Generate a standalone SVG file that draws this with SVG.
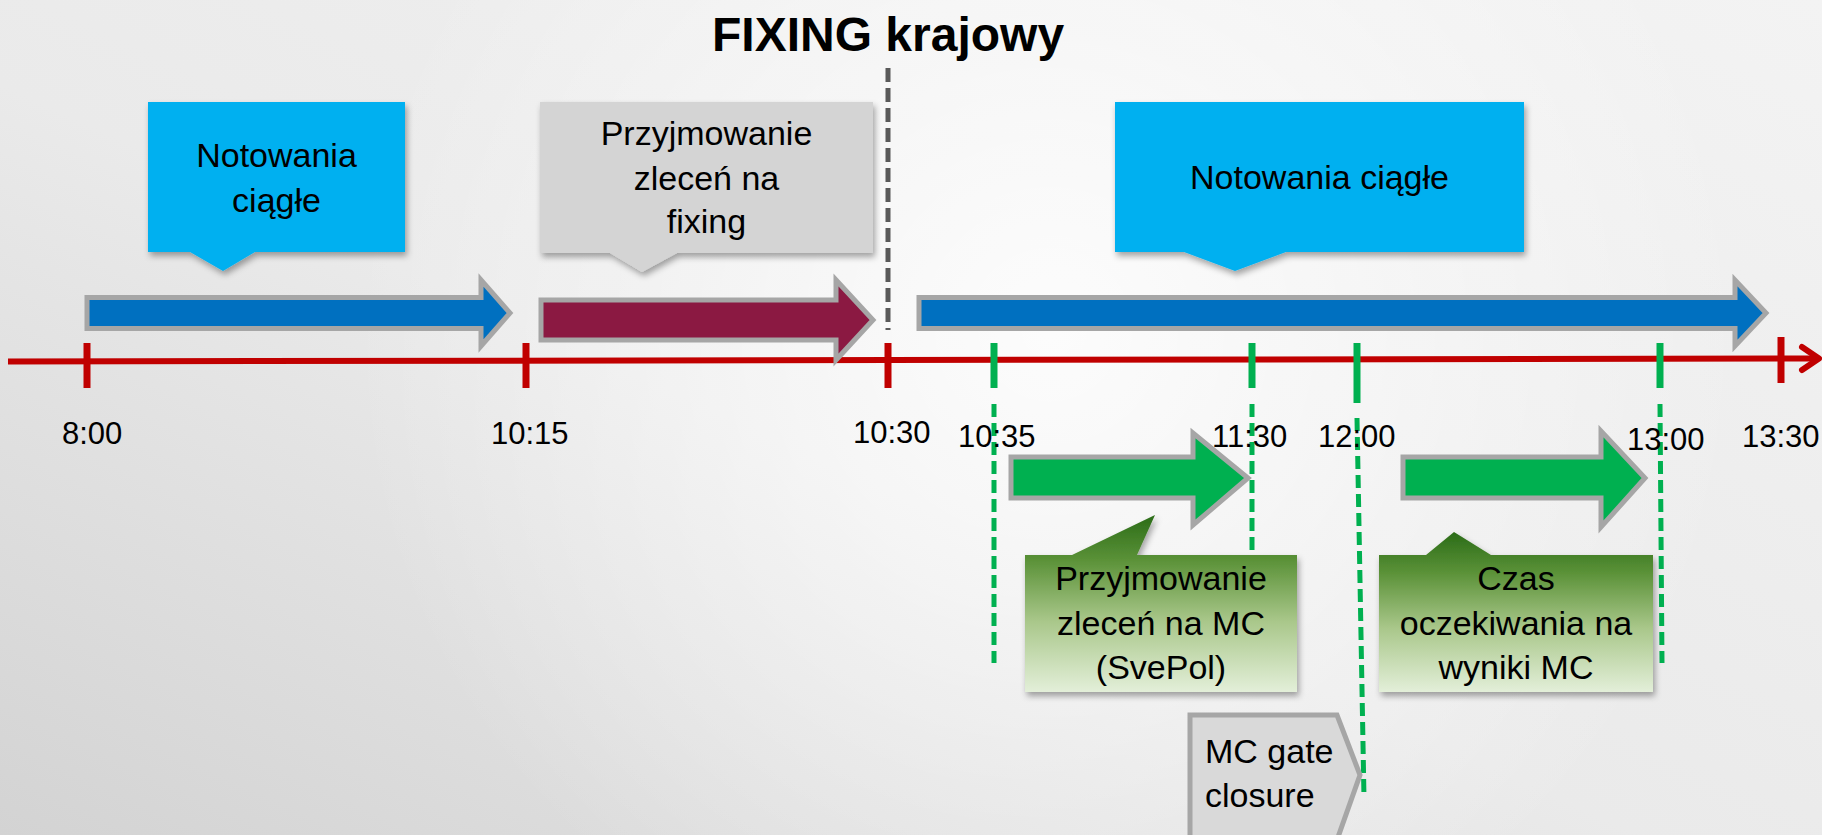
<svg xmlns="http://www.w3.org/2000/svg" width="1822" height="835" viewBox="0 0 1822 835">
  <defs>
    <linearGradient id="bg" x1="0" y1="1" x2="1" y2="0">
      <stop offset="0" stop-color="#d3d3d3"/>
      <stop offset="0.45" stop-color="#eaeaea"/>
      <stop offset="1" stop-color="#f3f3f3"/>
    </linearGradient>
    <radialGradient id="glow" cx="1050" cy="330" r="700" gradientUnits="userSpaceOnUse">
      <stop offset="0" stop-color="#ffffff" stop-opacity="0.85"/>
      <stop offset="1" stop-color="#ffffff" stop-opacity="0"/>
    </radialGradient>
    <linearGradient id="greenGrad" x1="0" y1="0" x2="0" y2="1">
      <stop offset="0" stop-color="#2b6c18"/>
      <stop offset="0.25" stop-color="#5a9137"/>
      <stop offset="0.6" stop-color="#a9c78a"/>
      <stop offset="1" stop-color="#e3efd9"/>
    </linearGradient>
    <filter id="shadow" x="-10%" y="-10%" width="125%" height="130%">
      <feDropShadow dx="2" dy="4" stdDeviation="3" flood-color="#000" flood-opacity="0.35"/>
    </filter>
    <style>
      .box-text { font-family: "Liberation Sans", Arial, sans-serif; font-size: 34px; fill: #000; text-anchor: middle; }
      .time { font-family: "Liberation Sans", Arial, sans-serif; font-size: 31px; fill: #000; }
      .title { font-family: "Liberation Sans", Arial, sans-serif; font-size: 48px; font-weight: bold; fill: #000; }
      .arrow { stroke: #a6a6a6; stroke-width: 5; stroke-linejoin: miter; }
      .red-tick { stroke: #c00000; stroke-width: 7; }
      .green-tick { stroke: #00b050; stroke-width: 7; }
      .green-dash { stroke: #00b050; stroke-width: 5; stroke-dasharray: 13 6; fill: none; }
    </style>
  </defs>

  <g id="background">
    <rect x="0" y="0" width="1822" height="835" fill="url(#bg)"/>
    <rect x="0" y="0" width="1822" height="835" fill="url(#glow)"/>
  </g>

  <g id="title">
    <text class="title" x="712" y="51">FIXING krajowy</text>
  </g>

  <g id="connectors">
    <!-- timeline axis -->
    <line x1="8" y1="361.5" x2="1816" y2="358.5" stroke="#c00000" stroke-width="6"/>
    <polyline points="1802,347 1819,358.5 1802,370" fill="none" stroke="#c00000" stroke-width="6" stroke-linecap="round" stroke-linejoin="round"/>
    <!-- red ticks -->
    <line class="red-tick" x1="87" y1="343" x2="87" y2="388"/>
    <line class="red-tick" x1="526" y1="343" x2="526" y2="388"/>
    <line class="red-tick" x1="888" y1="343" x2="888" y2="388"/>
    <line class="red-tick" x1="1781" y1="337" x2="1781" y2="383"/>
    <!-- green ticks -->
    <line class="green-tick" x1="994" y1="343" x2="994" y2="388"/>
    <line class="green-tick" x1="1252" y1="343" x2="1252" y2="388"/>
    <line class="green-tick" x1="1357" y1="343" x2="1357" y2="403"/>
    <line class="green-tick" x1="1660" y1="343" x2="1660" y2="388"/>
    <!-- fixing dashed line -->
    <line x1="888" y1="68" x2="888" y2="330" stroke="#595959" stroke-width="5" stroke-dasharray="14 6"/>
    <!-- green dashed lines -->
    <line class="green-dash" x1="994" y1="404" x2="994" y2="663"/>
    <line class="green-dash" x1="1252" y1="404" x2="1252" y2="553"/>
    <line class="green-dash" x1="1357" y1="418" x2="1364" y2="798"/>
    <line class="green-dash" x1="1660" y1="404" x2="1662" y2="663"/>
  </g>

  <g id="arrow-notowania-1">
    <path class="arrow" fill="#0070c0" d="M87,297.5 H481 V280 L510,313 L481,346 V328.5 H87 Z"/>
  </g>
  <g id="arrow-fixing">
    <path class="arrow" fill="#8b1942" d="M541,300 H836 V280 L873,320 L836,360 V340 H541 Z"/>
  </g>
  <g id="arrow-notowania-2">
    <path class="arrow" fill="#0070c0" d="M919,297.5 H1735 V280 L1766,313 L1735,346 V328.5 H919 Z"/>
  </g>
  <g id="arrow-mc-1">
    <path class="arrow" fill="#00b050" d="M1011,457 H1193 V433 L1248,478 L1193,525 V498 H1011 Z"/>
  </g>
  <g id="arrow-mc-2">
    <path class="arrow" fill="#00b050" d="M1403,457 H1601 V431 L1645,478 L1601,527 V498 H1403 Z"/>
  </g>

  <g id="callout-notowania-1">
    <path filter="url(#shadow)" fill="#00b0f0" d="M148,102 H405 V252 H255 L223,271 L190,252 H148 Z"/>
    <text class="box-text" x="276.5" y="167">Notowania</text>
    <text class="box-text" x="276.5" y="212">ciągłe</text>
  </g>

  <g id="callout-przyjmowanie-fixing">
    <path filter="url(#shadow)" fill="#d4d4d4" d="M540,102 H873 V253 H677 L642,272 L610,253 H540 Z"/>
    <text class="box-text" x="706.5" y="145">Przyjmowanie</text>
    <text class="box-text" x="706.5" y="190">zleceń na</text>
    <text class="box-text" x="706.5" y="233">fixing</text>
  </g>

  <g id="callout-notowania-2">
    <path filter="url(#shadow)" fill="#00b0f0" d="M1115,102 H1524 V252 H1286 L1235,271 L1184,252 H1115 Z"/>
    <text class="box-text" x="1319.5" y="189">Notowania ciągłe</text>
  </g>

  <g id="callout-przyjmowanie-mc">
    <path filter="url(#shadow)" fill="url(#greenGrad)" d="M1025,555 H1072 L1155,515 L1137,555 H1297 V692 H1025 Z"/>
    <text class="box-text" x="1161" y="590">Przyjmowanie</text>
    <text class="box-text" x="1161" y="635">zleceń na MC</text>
    <text class="box-text" x="1161" y="679">(SvePol)</text>
  </g>

  <g id="callout-oczekiwanie">
    <path filter="url(#shadow)" fill="url(#greenGrad)" d="M1379,555 H1426 L1454,532 L1491,555 H1653 V692 H1379 Z"/>
    <text class="box-text" x="1516" y="590">Czas</text>
    <text class="box-text" x="1516" y="635">oczekiwania na</text>
    <text class="box-text" x="1516" y="679">wyniki MC</text>
  </g>

  <g id="gate-closure">
    <path fill="#d9d9d9" stroke="#a6a6a6" stroke-width="5" d="M1190,715 H1337 L1360,775 L1337,840 H1190 Z"/>
    <text class="box-text" style="text-anchor:start" x="1205" y="763">MC gate</text>
    <text class="box-text" style="text-anchor:start" x="1205" y="807">closure</text>
  </g>

  <g id="time-labels">
    <text class="time" x="62" y="444">8:00</text>
    <text class="time" x="491" y="444">10:15</text>
    <text class="time" x="853" y="443">10:30</text>
    <text class="time" x="958" y="447">10:35</text>
    <text class="time" x="1212" y="447">11:30</text>
    <text class="time" x="1318" y="447">12:00</text>
    <text class="time" x="1627" y="450">13:00</text>
    <text class="time" x="1742" y="447">13:30</text>
  </g>
</svg>
